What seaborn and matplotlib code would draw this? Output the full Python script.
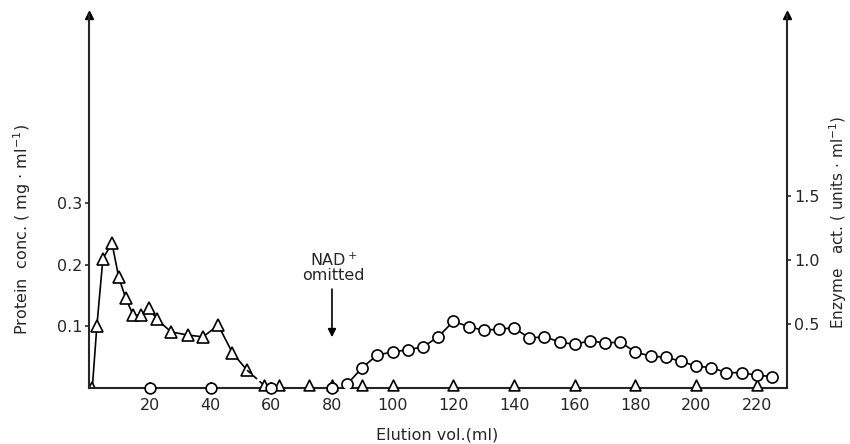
import matplotlib
matplotlib.use("Agg")
import matplotlib.pyplot as plt
import seaborn as sns

# Protein (triangles) - connected part
prot_x = [1, 2.5, 4.5, 7.5, 9.7, 12, 14.5, 17, 19.7, 22.2, 27, 32.5, 37.5, 42.5, 47.2, 52]
prot_y = [0.0, 0.10, 0.21, 0.235, 0.18, 0.146, 0.118, 0.118, 0.13, 0.112, 0.091, 0.086, 0.083, 0.102, 0.057, 0.029]
# trailing dashed bit and isolated zero points
prot_dash_x = [52, 57.5]
prot_dash_y = [0.029, 0.005]
prot_zero_x = [57.5, 62.5, 72.5, 80, 90, 100, 120, 140, 160, 180, 200, 220]
prot_zero_y = [0.005] * len(prot_zero_x)

# Enzyme activity (circles)
enz_zero_x = [20, 40, 60, 80]
enz_zero_y = [0.0, 0.0, 0.0, 0.0]
enz_x = [85, 90, 95, 100, 105, 110, 115, 120, 125, 130, 135, 140, 145, 150, 155,
         160, 165, 170, 175, 180, 185, 190, 195, 200, 205, 210, 215, 220, 225]
enz_y = [0.03, 0.16, 0.26, 0.28, 0.30, 0.32, 0.40, 0.52, 0.48, 0.45, 0.46, 0.47, 0.39, 0.40, 0.36,
         0.34, 0.37, 0.35, 0.36, 0.28, 0.25, 0.24, 0.21, 0.17, 0.16, 0.12, 0.12, 0.10, 0.09]

x_ticks = [20, 40, 60, 80, 100, 120, 140, 160, 180, 200, 220]
left_ticks = [0.1, 0.2, 0.3]
right_ticks = [0.5, 1.0, 1.5]

sns.set_style("ticks")
plt.rcParams['font.family'] = ['DejaVu Sans']
plt.rcParams['mathtext.fontset'] = 'dejavusans'
fs = 11.5

fig = plt.figure(figsize=(8.5, 4.44), dpi=100)
ax = fig.add_axes([0.105, 0.126, 0.821, 0.84])
ax2 = ax.twinx()

lw = 1.2
mk = dict(markerfacecolor='white', markeredgecolor='black', markeredgewidth=1.2)

# protein curve
sns.lineplot(x=prot_x, y=prot_y, ax=ax, color='black', lw=lw, marker='^', markersize=8, **mk)
sns.lineplot(x=prot_dash_x, y=prot_dash_y, ax=ax, color='black', lw=lw, linestyle=(0, (3, 2)))
sns.scatterplot(x=prot_zero_x, y=prot_zero_y, ax=ax, marker='^', s=60, facecolor='white',
                edgecolor='black', linewidth=1.2, zorder=3, clip_on=False)

# enzyme curve
sns.lineplot(x=enz_x, y=enz_y, ax=ax2, color='black', lw=lw, marker='o', markersize=8, **mk)
sns.scatterplot(x=enz_zero_x, y=enz_zero_y, ax=ax2, marker='o', s=60, facecolor='white',
                edgecolor='black', linewidth=1.2, zorder=3, clip_on=False)

ax.set_xlim(0, 230)
ax.set_ylim(0, 0.605)
ax2.set_ylim(0, 2.91)

for a in (ax, ax2):
    a.spines['top'].set_visible(False)
    for s in a.spines.values():
        s.set_linewidth(1.5)
ax2.spines['left'].set_visible(False)
ax2.spines['bottom'].set_visible(False)
ax.spines['right'].set_visible(False)

ax.set_xticks(x_ticks)
ax.set_xticklabels([str(t) for t in x_ticks], fontsize=fs)
ax.set_yticks(left_ticks)
ax.set_yticklabels(['0.1', '0.2', '0.3'], fontsize=fs)
ax2.set_yticks(right_ticks)
ax2.set_yticklabels(['0.5', '1.0', '1.5'], fontsize=fs)
ax.tick_params(axis='x', direction='in', length=4, width=1.2, pad=7)
ax.tick_params(axis='y', direction='out', length=3, width=1.2, pad=2)
ax2.tick_params(axis='y', direction='out', length=3, width=1.2, pad=2)

# arrow heads on top of the vertical axes
ax.plot([0], [1], marker='^', color='black', markersize=6, transform=ax.transAxes, clip_on=False)
ax.plot([1], [1], marker='^', color='black', markersize=6, transform=ax.transAxes, clip_on=False)

ax.set_xlabel('Elution vol.(ml)', fontsize=fs)
ax.xaxis.set_label_coords(0.499, -0.105)
ax.set_ylabel(r'Protein  conc. ( mg $\cdot$ ml$^{-1}$)', fontsize=fs)
ax.yaxis.set_label_coords(-0.08, 0.424)
ax2.set_ylabel(r'Enzyme   act. ( units $\cdot$ ml$^{-1}$)', fontsize=11)
ax2.yaxis.set_label_coords(1.058, 0.445)

# NAD+ omitted marker
ax.annotate('', xy=(80, 0.078), xytext=(80, 0.165),
            arrowprops=dict(arrowstyle='-|>', color='black', lw=1.2, mutation_scale=12))
ax.text(80.5, 0.170, 'NAD$^+$\nomitted', ha='center', va='bottom', fontsize=fs, linespacing=0.95)

fig.savefig('out.png', dpi=100)
